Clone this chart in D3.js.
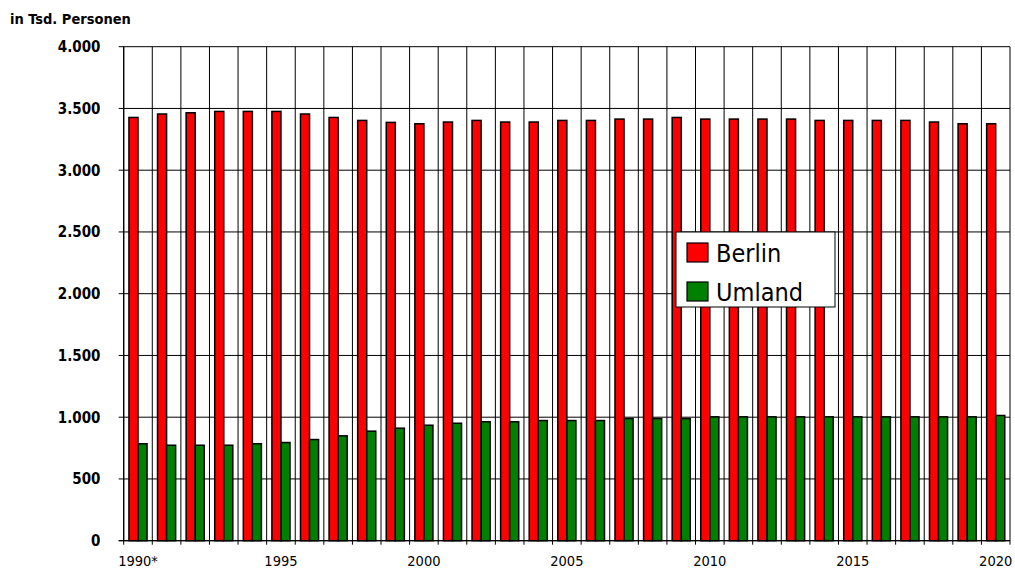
<!DOCTYPE html>
<html>
<head>
<meta charset="utf-8">
<script src="https://cdn.jsdelivr.net/npm/d3@7"></script>
<style>
  html, body { margin: 0; padding: 0; background: #fff; }
  svg { display: block; }
  text { font-family: "DejaVu Sans Condensed", "DejaVu Sans", sans-serif; }
</style>
</head>
<body>
<svg id="chart" width="1015" height="570"></svg>
<script>
// ---- data ----
const years = ["1990*","1991","1992","1993","1994","1995","1996","1997","1998","1999",
  "2000","2001","2002","2003","2004","2005","2006","2007","2008","2009",
  "2010","2011","2012","2013","2014","2015","2016","2017","2018","2019","2020"];
const berlin = [3427,3455,3465,3476,3476,3476,3455,3427,3403,3387,
  3376,3390,3403,3390,3390,3403,3403,3414,3414,3427,
  3414,3414,3414,3414,3403,3403,3403,3403,3390,3376,3376];
const umland = [785,773,773,773,785,795,819,849,887,911,
  935,951,963,963,973,973,973,989,989,989,
  1003,1003,1003,1003,1003,1003,1003,1003,1003,1003,1014];
const seriesNames = ["Berlin","Umland"];
const seriesColors = ["#ff0000","#008000"];
const yTicks = [0,500,1000,1500,2000,2500,3000,3500,4000];
const xLabelYears = ["1990*","1995","2000","2005","2010","2015","2020"];
const yTitle = "in Tsd. Personen";

// ---- layout ----
const svg = d3.select("#chart");
const pLeft = 123.7, pRight = 1010, pTop = 46.7, pBottom = 540.7;

const x0 = d3.scaleBand().domain(years).range([pLeft, pRight]).paddingInner(0).paddingOuter(0);
const x1 = d3.scaleBand().domain(seriesNames).range([0, x0.bandwidth()]).paddingInner(0).paddingOuter(0.58);
const y = d3.scaleLinear().domain([0, 4000]).range([pBottom, pTop]);

const fmt = v => d3.format(",")(v).replace(/,/g, ".");

// horizontal gridlines
svg.append("g").selectAll("line").data(yTicks).join("line")
  .attr("x1", pLeft - 5).attr("x2", pRight)
  .attr("y1", d => y(d)).attr("y2", d => y(d))
  .attr("stroke", "#000").attr("stroke-width", 1);

// vertical gridlines (category boundaries)
const bounds = years.map(d => x0(d)).concat([pRight]);
svg.append("g").selectAll("line").data(bounds).join("line")
  .attr("x1", d => d).attr("x2", d => d)
  .attr("y1", pTop).attr("y2", pBottom + 4)
  .attr("stroke", "#000").attr("stroke-width", 1);

// y axis labels
svg.append("g").selectAll("text").data(yTicks).join("text")
  .attr("x", 100.5).attr("y", d => y(d))
  .attr("dy", "0.36em")
  .attr("text-anchor", "end")
  .attr("font-size", "15px").attr("font-weight", "bold")
  .attr("fill", "#000")
  .text(d => fmt(d));

// x axis labels
svg.append("g").selectAll("text").data(xLabelYears).join("text")
  .attr("x", d => x0(d) + x0.bandwidth() / 2)
  .attr("y", 566)
  .attr("text-anchor", "middle")
  .attr("font-size", "14.5px")
  .attr("fill", "#000")
  .text(d => d);

// bars
const rows = years.map((yr, i) => ({ yr, vals: [berlin[i], umland[i]] }));
const groups = svg.append("g").selectAll("g").data(rows).join("g")
  .attr("transform", d => `translate(${x0(d.yr)},0)`);
groups.selectAll("rect").data(d => d.vals.map((v, k) => ({ k, v }))).join("rect")
  .attr("x", d => x1(seriesNames[d.k]))
  .attr("width", x1.bandwidth())
  .attr("y", d => y(d.v))
  .attr("height", d => y(0) - y(d.v))
  .attr("fill", d => seriesColors[d.k])
  .attr("stroke", "#000").attr("stroke-width", 1.5);

// axis line on left and bottom
svg.append("line").attr("x1", pLeft).attr("x2", pLeft).attr("y1", pTop).attr("y2", pBottom)
  .attr("stroke", "#000").attr("stroke-width", 1.2);
svg.append("line").attr("x1", pLeft - 5).attr("x2", pRight).attr("y1", pBottom).attr("y2", pBottom)
  .attr("stroke", "#000").attr("stroke-width", 1.2);

// title
svg.append("text").attr("x", 10).attr("y", 24)
  .attr("font-size", "14.5px").attr("font-weight", "bold").attr("fill", "#000")
  .text(yTitle);

// legend
const lg = svg.append("g").attr("transform", "translate(676,232)");
lg.append("rect").attr("x", 0).attr("y", 0).attr("width", 159).attr("height", 75)
  .attr("fill", "#fff").attr("stroke", "#000").attr("stroke-width", 1);
seriesNames.forEach((name, k) => {
  lg.append("rect").attr("x", 11).attr("y", 11 + k * 39).attr("width", 21).attr("height", 19)
    .attr("fill", seriesColors[k]).attr("stroke", "#000").attr("stroke-width", 1.2);
  lg.append("text").attr("x", 40).attr("y", 30 + k * 39)
    .attr("font-size", "25px").attr("fill", "#000")
    .text(name);
});
</script>
</body>
</html>
